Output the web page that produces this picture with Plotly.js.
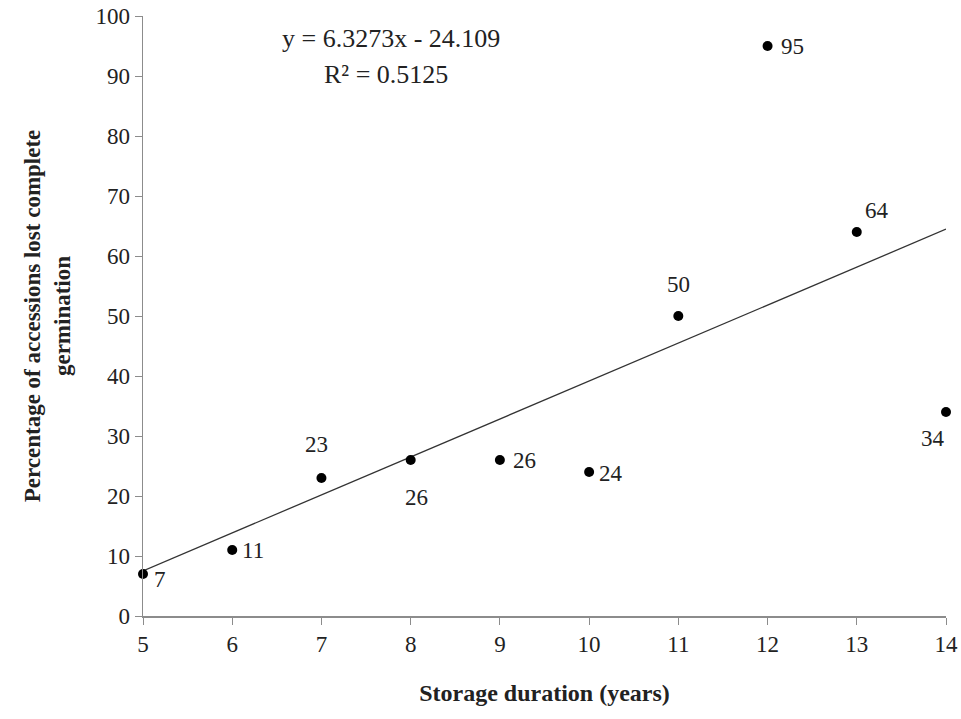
<!DOCTYPE html>
<html>
<head>
<meta charset="utf-8">
<script src="https://cdn.plot.ly/plotly-3.0.1.min.js"></script>
<style>html,body{margin:0;padding:0;background:#fff;}#chart{width:961px;height:719px;}</style>
</head>
<body>
<div id="chart"></div>
<script>
const years = [5, 6, 7, 8, 9, 10, 11, 12, 13, 14];
const lostPct = [7, 11, 23, 26, 26, 24, 50, 95, 64, 34];
const slope = 6.3273;
const intercept = -24.109;
const rSquared = 0.5125;
const xTicks = [5, 6, 7, 8, 9, 10, 11, 12, 13, 14];

// label offsets in pixels (style only)
const labelDx = [17, 21, -5, 6, 25, 22, 0, 25, 20, -13];
const labelDy = [-5, 0, 34, -37, 0, -1, 32, 0, 22, -26];

const trendX = [years[0], years[years.length - 1]];
const trendY = trendX.map(x => slope * x + intercept);

const font = "Liberation Serif, Times New Roman, serif";
const textColor = "#222";

const data = [
  {
    x: trendX, y: trendY, type: "scatter", mode: "lines",
    line: {color: "#333", width: 1.3}, hoverinfo: "skip", cliponaxis: false
  },
  {
    x: years, y: lostPct, type: "scatter", mode: "markers",
    marker: {color: "#000", size: 10},
    cliponaxis: false
  }
];

const pointLabels = years.map((x, i) => ({
  x: x, y: lostPct[i], xref: "x", yref: "y",
  text: String(lostPct[i]), showarrow: false,
  xshift: labelDx[i], yshift: labelDy[i],
  xanchor: "center", yanchor: "middle",
  font: {family: font, size: 23, color: textColor}
}));

const layout = {
  width: 961, height: 719,
  margin: {l: 143, r: 15, t: 16, b: 103},
  paper_bgcolor: "#fff", plot_bgcolor: "#fff",
  showlegend: false,
  font: {family: font, size: 22, color: textColor},
  xaxis: {
    range: [5, 14], tickvals: xTicks, ticks: "outside", ticklen: 7, tickcolor: "#8c8c8c",
    showline: true, linecolor: "#8c8c8c", linewidth: 1.5, showgrid: false, zeroline: false,
    tickfont: {family: font, size: 23, color: textColor},
    title: {text: "<b>Storage duration (years)</b>", font: {family: font, size: 24, color: textColor}, standoff: 28}
  },
  yaxis: {
    range: [0, 100], dtick: 10, ticks: "outside", ticklen: 7, tickcolor: "#8c8c8c",
    showline: true, linecolor: "#8c8c8c", linewidth: 1.5, showgrid: false, zeroline: false,
    tickfont: {family: font, size: 23, color: textColor},
    title: {text: "<b>Percentage of accessions lost complete<br>germination</b>", font: {family: font, size: 23, color: textColor}, standoff: 18}
  },
  annotations: pointLabels.concat([
    {xref: "paper", yref: "paper", x: 0.309, y: 0.963, xanchor: "center", yanchor: "middle",
     text: "y = " + slope + "x - " + Math.abs(intercept), showarrow: false,
     font: {family: font, size: 26, color: textColor}},
    {xref: "paper", yref: "paper", x: 0.303, y: 0.902, xanchor: "center", yanchor: "middle",
     text: "R² = " + rSquared, showarrow: false,
     font: {family: font, size: 26, color: textColor}}
  ])
};

Plotly.newPlot("chart", data, layout, {displayModeBar: false, staticPlot: true});
</script>
</body>
</html>
